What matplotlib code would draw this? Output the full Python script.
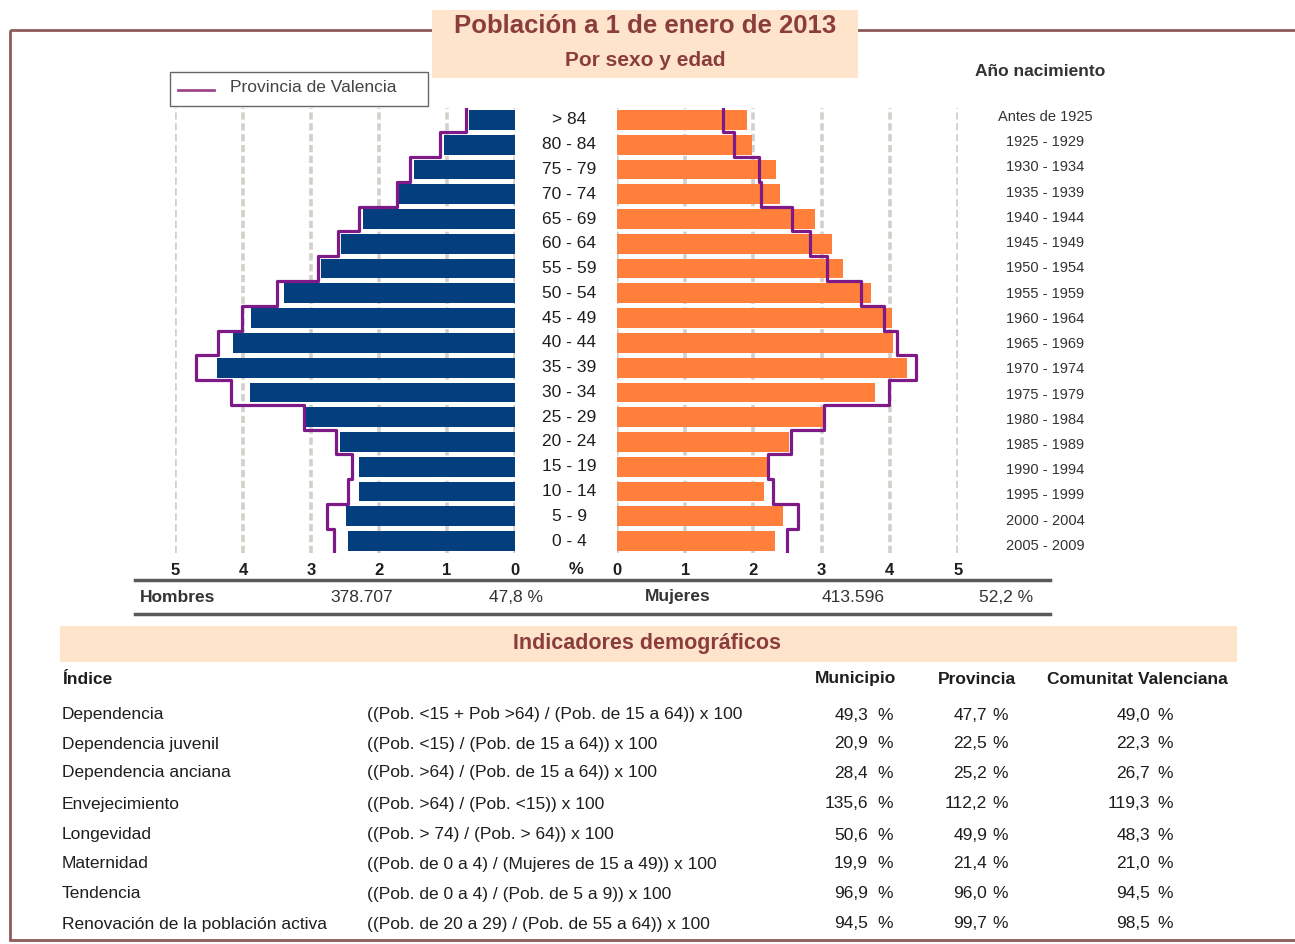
import matplotlib
matplotlib.use('Agg')
import matplotlib.pyplot as plt
import numpy as np
from matplotlib.patches import Rectangle
from matplotlib.lines import Line2D
from matplotlib.transforms import blended_transform_factory

plt.rcParams['font.family'] = ['Liberation Sans Narrow', 'Liberation Sans', 'DejaVu Sans']

# age groups from bottom (0-4) to top (> 84)
ages = ['0 - 4', '5 - 9', '10 - 14', '15 - 19', '20 - 24', '25 - 29', '30 - 34', '35 - 39',
        '40 - 44', '45 - 49', '50 - 54', '55 - 59', '60 - 64', '65 - 69', '70 - 74',
        '75 - 79', '80 - 84', '> 84']
births = ['2005 - 2009', '2000 - 2004', '1995 - 1999', '1990 - 1994', '1985 - 1989',
          '1980 - 1984', '1975 - 1979', '1970 - 1974', '1965 - 1969', '1960 - 1964',
          '1955 - 1959', '1950 - 1954', '1945 - 1949', '1940 - 1944', '1935 - 1939',
          '1930 - 1934', '1925 - 1929', 'Antes de 1925']

# % of population (municipio bars, provincia line)
hombres = [2.45, 2.48, 2.29, 2.29, 2.57, 3.09, 3.90, 4.38, 4.15, 3.88, 3.39, 2.85, 2.56,
           2.24, 1.71, 1.49, 1.05, 0.68]
hombres_prov = [2.66, 2.76, 2.45, 2.39, 2.63, 3.11, 4.17, 4.69, 4.37, 4.02, 3.50, 2.90,
                2.60, 2.29, 1.74, 1.55, 1.10, 0.72]
mujeres = [2.31, 2.43, 2.16, 2.20, 2.52, 3.02, 3.79, 4.25, 4.04, 4.03, 3.73, 3.31, 3.15,
           2.91, 2.39, 2.33, 1.98, 1.90]
mujeres_prov = [2.49, 2.65, 2.29, 2.22, 2.55, 3.03, 3.99, 4.38, 4.10, 3.92, 3.58, 3.08,
                2.83, 2.56, 2.11, 2.08, 1.71, 1.55]

ticks = [0, 1, 2, 3, 4, 5]

resumen = ['Hombres', '378.707', '47,8 %', 'Mujeres', '413.596', '52,2 %']

indices = ['Dependencia', 'Dependencia juvenil', 'Dependencia anciana', 'Envejecimiento',
           'Longevidad', 'Maternidad', 'Tendencia', 'Renovación de la población activa']
formulas = ['((Pob. <15 + Pob >64) / (Pob. de 15 a 64)) x 100',
            '((Pob. <15) / (Pob. de 15 a 64)) x 100',
            '((Pob. >64) / (Pob. de 15 a 64)) x 100',
            '((Pob. >64) / (Pob. <15)) x 100',
            '((Pob. > 74) / (Pob. > 64)) x 100',
            '((Pob. de 0 a 4) / (Mujeres de 15 a 49)) x 100',
            '((Pob. de 0 a 4) / (Pob. de 5 a 9)) x 100',
            '((Pob. de 20 a 29) / (Pob. de 55 a 64)) x 100']
municipio = ['49,3', '20,9', '28,4', '135,6', '50,6', '19,9', '96,9', '94,5']
provincia = ['47,7', '22,5', '25,2', '112,2', '49,9', '21,4', '96,0', '99,7']
comunitat = ['49,0', '22,3', '26,7', '119,3', '48,3', '21,0', '94,5', '98,5']

azul = '#033F7F'
naranja = '#FF7F3B'
morado = '#7E1A88'
marron = '#8B3D3D'
texto = '#1E1E1E'

W, H = 1295, 944
fig = plt.figure(figsize=(W / 100, H / 100), dpi=100)

# background axes in pixel coordinates for the decorations
bg = fig.add_axes([0, 0, 1, 1])
bg.set_xlim(0, W)
bg.set_ylim(H, 0)
bg.axis('off')

bg.add_patch(Rectangle((10, 30), 1310, 910, fill=False, ec='#8E5B5B', lw=2))
bg.add_patch(Rectangle((432, 10), 426, 68, fc='#FDE4CB', ec='none'))
bg.text(645, 26, 'Población a 1 de enero de 2013', ha='center', va='center',
        fontsize=18.5, fontweight='bold', color=marron)
bg.text(645, 61, 'Por sexo y edad', ha='center', va='center',
        fontsize=15, fontweight='bold', color=marron)

# legend box
bg.add_patch(Rectangle((170, 72), 258, 34, fc='white', ec='#666666', lw=1, zorder=3))
bg.add_line(Line2D([178, 214], [90, 90], color='#A0468C', lw=2, zorder=4))
bg.text(230, 88, 'Provincia de Valencia', ha='left', va='center', fontsize=12.5,
        color='#444444', zorder=4)

bg.text(1040, 72, 'Año nacimiento', ha='center', va='center', fontsize=12.5,
        fontweight='bold', color='#333333')

# pyramid axes
top, bot = 107.6, 553.4
ax_h = fig.add_axes([175 / W, 1 - bot / H, 340 / W, (bot - top) / H])
ax_m = fig.add_axes([617 / W, 1 - bot / H, 341 / W, (bot - top) / H])

idx = np.arange(len(ages))
edges = np.column_stack([idx - 0.5, idx + 0.5]).ravel()

ax_h.barh(idx, hombres, height=0.8, color=azul, zorder=2)
ax_h.plot(np.repeat(hombres_prov, 2), edges, color=morado, lw=2.3, zorder=3)
ax_m.barh(idx, mujeres, height=0.8, color=naranja, zorder=2)
ax_m.plot(np.repeat(mujeres_prov, 2), edges, color=morado, lw=2.3, zorder=3)

ax_h.set_xlim(5, 0)
ax_m.set_xlim(0, 5)
for ax in (ax_h, ax_m):
    ax.set_ylim(-0.5, len(ages) - 0.5)
    ax.set_yticks([])
    ax.set_xticks(ticks)
    ax.set_xticklabels([str(t) for t in ticks], fontsize=12, fontweight='bold', color=texto)
    ax.tick_params(axis='x', length=0, pad=7)
    ax.xaxis.grid(True, linestyle=(0, (2, 1)), color='#D3CFC9', lw=2.6)
    ax.set_axisbelow(True)
    for s in ax.spines.values():
        s.set_visible(False)
    ax.patch.set_alpha(0)

tr = blended_transform_factory(fig.transFigure, ax_h.transData)
for i, a in enumerate(ages):
    ax_h.text(569 / W, i, a, transform=tr, ha='center', va='center', fontsize=12.5,
              color=texto, clip_on=False)
# birth-year labels are spaced slightly wider than the bars
for i, b in enumerate(births):
    ax_h.text(1045 / W, 1.019 * i - 0.2, b, transform=tr, ha='center', va='center',
              fontsize=10.5, color='#333333', clip_on=False)

bg.text(576, 569, '%', ha='center', va='center', fontsize=12, fontweight='bold', color=texto)

# summary row
bg.add_line(Line2D([135, 1050], [580, 580], color='#5A5A5A', lw=2.5))
bg.add_line(Line2D([135, 1050], [614, 614], color='#5A5A5A', lw=2.5))
res_x = [140, 393, 543, 645, 885, 1033]
res_ha = ['left', 'right', 'right', 'left', 'right', 'right']
for k, s in enumerate(resumen):
    bold = k in (0, 3)
    bg.text(res_x[k], 597, s, ha=res_ha[k], va='center', fontsize=12.5,
            fontweight='bold' if bold else 'normal', color='#333333')

# indicators table
bg.add_patch(Rectangle((60, 626), 1177, 36, fc='#FDE4CB', ec='none'))
bg.text(647, 644, 'Indicadores demográficos', ha='center', va='center', fontsize=15.5,
        fontweight='bold', color=marron)
bg.text(62, 679, 'Índice', ha='left', va='center', fontsize=12.5, fontweight='bold', color=texto)
bg.text(856, 679, 'Municipio', ha='center', va='center', fontsize=12.5, fontweight='bold', color=texto)
bg.text(977, 679, 'Provincia', ha='center', va='center', fontsize=12.5, fontweight='bold', color=texto)
bg.text(1137, 679, 'Comunitat Valenciana', ha='center', va='center', fontsize=12.5,
        fontweight='bold', color=texto)

row_y = [715, 744, 773, 804, 835, 864, 894, 924]
for k in range(len(indices)):
    y = row_y[k]
    bg.text(62, y, indices[k], ha='left', va='center', fontsize=12.5, color=texto)
    bg.text(367, y, formulas[k], ha='left', va='center', fontsize=12.5, color=texto)
    bg.text(868, y, municipio[k], ha='right', va='center', fontsize=12.5, color=texto)
    bg.text(893, y, '%', ha='right', va='center', fontsize=12.5, color=texto)
    bg.text(987, y, provincia[k], ha='right', va='center', fontsize=12.5, color=texto)
    bg.text(1008, y, '%', ha='right', va='center', fontsize=12.5, color=texto)
    bg.text(1150, y, comunitat[k], ha='right', va='center', fontsize=12.5, color=texto)
    bg.text(1173, y, '%', ha='right', va='center', fontsize=12.5, color=texto)

fig.savefig('out.png', dpi=100)
